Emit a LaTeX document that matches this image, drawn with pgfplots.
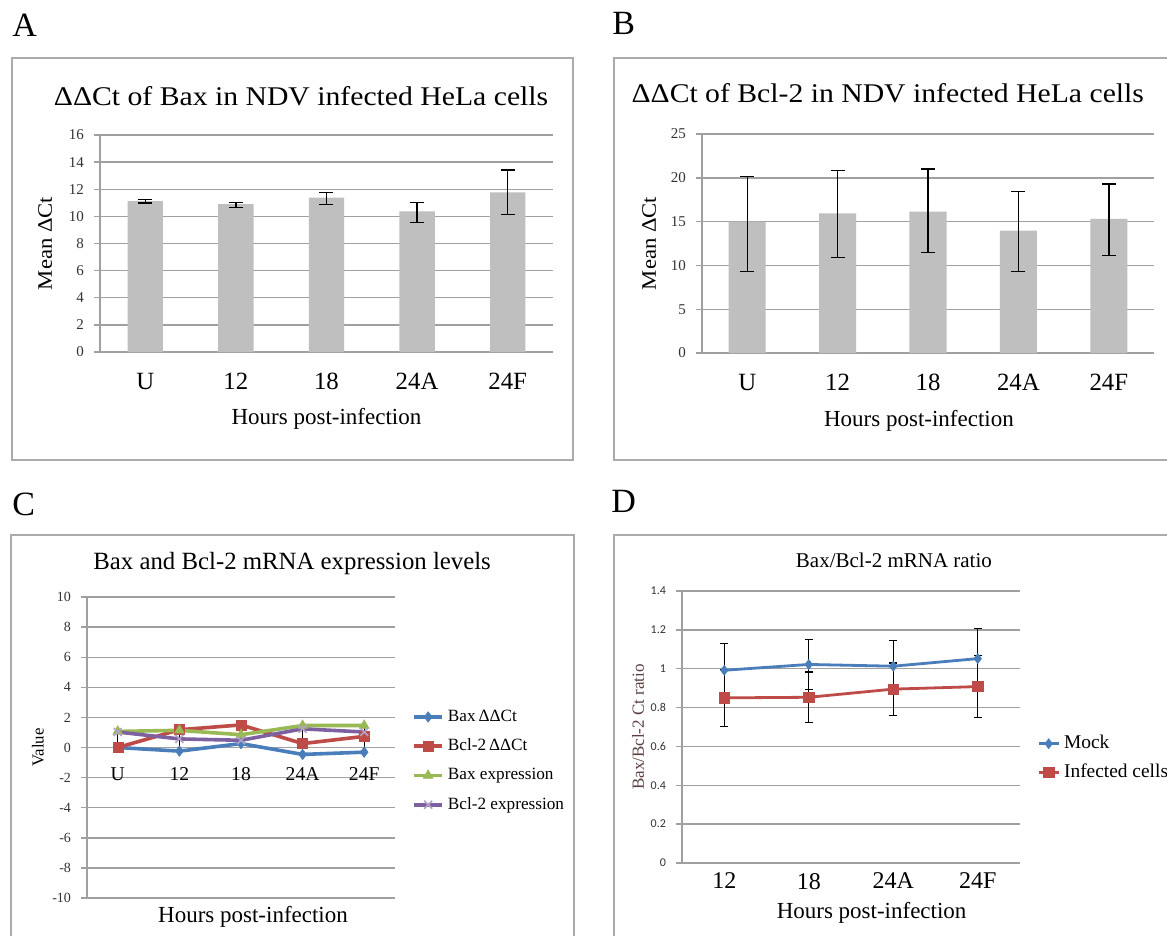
\documentclass[border=0pt]{standalone}
\usepackage{fontspec}
\setmainfont{Liberation Serif}
\newfontfamily\widefont[FakeStretch=1.1]{Liberation Serif}
\newfontfamily\calib{Carlito}
\usepackage{pgfplots}
\pgfplotsset{compat=1.18}

\definecolor{gridc}{HTML}{A0A0A0}
\definecolor{framec}{HTML}{ABABAB}
\definecolor{barc}{HTML}{BFBFBF}
\definecolor{tickc}{HTML}{333333}
\definecolor{xlBlue}{HTML}{4A7EBB}
\definecolor{xlRed}{HTML}{BE4B48}
\definecolor{xlGreen}{HTML}{98B954}
\definecolor{xlPurple}{HTML}{7D60A0}
\definecolor{xlLav}{HTML}{B3A2C7}
\definecolor{ratioc}{HTML}{5C3F3F}

% Excel-like look shared by the four panels
\pgfplotsset{
  every axis title shift=0pt,
  xl/.style={
    scale only axis, anchor=south west,
    axis y line*=left, axis x line*=bottom,
    axis line style={-, draw=gridc, line width=0.7pt},
    ymajorgrids, grid style={draw=gridc, line width=0.7pt},
    xtick style={draw=none},
    ytick style={draw=gridc, line width=0.7pt},
    tick align=outside, major tick length=3pt,
    /pgf/number format/assume math mode=true,
    yticklabel style={text=tickc, xshift=-1.5pt},
    hide obscured y ticks=false,
  },
  ebar/.style={error bars/.cd, y dir=both, y explicit,
    error bar style={draw=black, line width=0.7pt},
    error mark options={rotate=90, mark size=3.5pt, draw=black, line width=0.7pt}},
}

\begin{document}
\begin{tikzpicture}
\path[use as bounding box] (0,0) rectangle (583.5pt,-468pt);
\fill[white] (0,0) rectangle (583.5pt,-468pt);
\clip (0,0) rectangle (583.5pt,-468pt);

% panel frames
\draw[framec, line width=0.8pt] (6pt,-29pt) rectangle (286.5pt,-230pt);
\draw[framec, line width=0.8pt] (590pt,-29pt) -- (307pt,-29pt) -- (307pt,-230pt) -- (590pt,-230pt);
\draw[framec, line width=0.8pt] (5.5pt,-480pt) -- (5.5pt,-267.5pt) -- (287pt,-267.5pt) -- (287pt,-480pt);
\draw[framec, line width=0.8pt] (307pt,-480pt) -- (307pt,-267.5pt) -- (590pt,-267.5pt);

% panel letters
\node[anchor=base west, inner sep=0pt, font=\fontsize{17}{17}\selectfont] at (6pt,-18.5pt) {A};
\node[anchor=base west, inner sep=0pt, font=\fontsize{17}{17}\selectfont] at (306pt,-17.5pt) {B};
\node[anchor=base west, inner sep=0pt, font=\fontsize{17}{17}\selectfont] at (6pt,-257.5pt) {C};
\node[anchor=base west, inner sep=0pt, font=\fontsize{17}{17}\selectfont] at (305.5pt,-256pt) {D};

% ---- A ----
\begin{axis}[xl, at={(50pt,-176pt)}, width=226.5pt, height=108.5pt,
  xmin=-0.5, xmax=4.5, ymin=0, ymax=16, ytick={0,2,...,16},
  xtick={0,...,4}, xticklabels={U,12,18,24A,24F},
  xticklabel style={font=\fontsize{12.4}{13}\selectfont, yshift=-4pt},
  yticklabel style={font=\fontsize{7.5}{8}\selectfont},
  title={ΔΔCt of Bax in NDV infected HeLa cells},
  title style={font=\widefont\fontsize{13.5}{14}\selectfont, at={(axis description cs:0.444,1.138)}, anchor=base},
  xlabel={Hours post-infection},
  xlabel style={font=\fontsize{11.5}{12}\selectfont, at={(axis description cs:0.5,-0.31)}, anchor=center},
  ylabel={Mean ΔCt},
  ylabel style={font=\widefont\fontsize{10.3}{11}\selectfont, at={(axis description cs:-0.121,0.5)}, anchor=center},
]
\addplot[ybar, bar width=0.39, fill=barc, draw=none, ebar]
  table[x=x, y=y, y error plus=ep, y error minus=em] {
x y     ep   em
0 11.13 0.10 0.15
1 10.91 0.12 0.24
2 11.38 0.39 0.49
3 10.37 0.64 0.81
4 11.77 1.65 1.62
};
\end{axis}

% ---- B ----
\begin{axis}[xl, at={(351pt,-176.5pt)}, width=226pt, height=109.5pt,
  xmin=-0.5, xmax=4.5, ymin=0, ymax=25, ytick={0,5,...,25},
  xtick={0,...,4}, xticklabels={U,12,18,24A,24F},
  xticklabel style={font=\fontsize{12.4}{13}\selectfont, yshift=-4pt},
  yticklabel style={font=\fontsize{7.5}{8}\selectfont},
  title={ΔΔCt of Bcl-2 in NDV infected HeLa cells},
  title style={font=\widefont\fontsize{13.5}{14}\selectfont, at={(axis description cs:0.411,1.142)}, anchor=base},
  xlabel={Hours post-infection},
  xlabel style={font=\fontsize{11.5}{12}\selectfont, at={(axis description cs:0.48,-0.31)}, anchor=center},
  ylabel={Mean ΔCt},
  ylabel style={font=\widefont\fontsize{10.3}{11}\selectfont, at={(axis description cs:-0.117,0.5)}, anchor=center},
]
\addplot[ybar, bar width=0.41, fill=barc, draw=none, ebar]
  table[x=x, y=y, y error plus=ep, y error minus=em] {
x y     ep   em
0 15.00 5.15 5.70
1 15.95 4.85 5.05
2 16.15 4.85 4.70
3 13.97 4.46 4.70
4 15.30 4.00 4.20
};
\end{axis}

% ---- C ----
\begin{axis}[xl, at={(43.5pt,-449pt)}, width=154pt, height=150.5pt,
  axis x line*=middle,
  xmin=-0.5, xmax=4.5, ymin=-10, ymax=10, ytick={-10,-8,...,10},
  xtick={0,...,4}, xticklabels={U,12,18,24A,24F},
  xticklabel style={font=\fontsize{9.8}{10}\selectfont, yshift=-3.6pt},
  yticklabel style={font=\fontsize{7}{8}\selectfont},
  title={Bax and Bcl-2 mRNA expression levels},
  title style={font=\fontsize{12.4}{13}\selectfont, at={(axis description cs:0.666,1.09)}, anchor=base},
  xlabel={Hours post-infection},
  xlabel style={font=\fontsize{11.5}{12}\selectfont, at={(axis description cs:0.539,-0.063)}, anchor=center},
  ylabel={Value},
  ylabel style={font=\fontsize{8.4}{9}\selectfont, at={(axis description cs:-0.159,0.5)}, anchor=center},
  legend style={draw=none, fill=none, at={(axis description cs:1.055,0.64)}, anchor=north west,
    font=\fontsize{8.6}{9}\selectfont, inner sep=0pt, row sep=3.3pt, cells={anchor=west}},
  legend image code/.code={\draw[mark repeat=2,mark phase=2,#1] plot coordinates {(0pt,0pt)(7pt,0pt)(14pt,0pt)};},
]
\addplot[xlBlue, line width=1.8pt, mark=diamond*, mark size=2.6pt, mark options={solid, line width=0.3pt}]
  coordinates {(0,0)(1,-0.24)(2,0.26)(3,-0.46)(4,-0.31)};
\addlegendentry{Bax\,ΔΔCt}
\addplot[xlRed, line width=1.8pt, mark=square*, mark size=2.5pt, mark options={solid, line width=0.3pt}]
  coordinates {(0,0)(1,1.18)(2,1.5)(3,0.26)(4,0.74)};
\addlegendentry{Bcl-2\,ΔΔCt}
\addplot[xlGreen, line width=1.8pt, mark=triangle*, mark size=2.8pt, mark options={solid, line width=0.3pt}]
  coordinates {(0,1.07)(1,1.14)(2,0.85)(3,1.46)(4,1.46)};
\addlegendentry{Bax expression}
\addplot[xlPurple, line width=1.8pt, mark=x, mark size=2.8pt, mark options={solid, xlLav, line width=0.8pt}]
  coordinates {(0,1.03)(1,0.57)(2,0.48)(3,1.24)(4,1.03)};
\addlegendentry{Bcl-2 expression}
\addplot[draw=none, mark=none, forget plot, error bars/.cd, y dir=both, y explicit,
  error bar style={draw=black, line width=0.6pt}, error mark=none]
  table[x=x, y=y, y error plus=e, y error minus=e] {
x y     e
0 0.53  0.54
1 0.40  0.80
2 0.85  0.55
3 0.45  1.05
4 0.47  1.02
};
\end{axis}

% ---- D ----
\begin{axis}[xl, at={(341pt,-431.5pt)}, width=169pt, height=136pt,
  xmin=-0.5, xmax=3.5, ymin=0, ymax=1.4,
  ytick={0,0.2,0.4,0.6,0.8,1,1.2,1.4}, yticklabels={0,0.2,0.4,0.6,0.8,1,1.2,1.4},
  yticklabel style={font=\calib\fontsize{6}{7}\selectfont},
  xtick={0,...,3}, xticklabels={12,18,24A,24F},
  xticklabel style={font=\fontsize{12}{13}\selectfont, yshift=1.5pt},
  title={Bax/Bcl-2 mRNA ratio},
  title style={font=\fontsize{10.5}{11}\selectfont, at={(axis description cs:0.627,1.088)}, anchor=base},
  xlabel={Hours post-infection},
  xlabel style={font=\fontsize{11.5}{12}\selectfont, at={(axis description cs:0.561,-0.184)}, anchor=center},
  ylabel={Bax/Bcl-2 Ct ratio},
  ylabel style={font=\fontsize{8.5}{9}\selectfont, text=ratioc, at={(axis description cs:-0.13,0.5)}, anchor=center},
  legend style={draw=none, fill=none, at={(axis description cs:1.05,0.485)}, anchor=north west,
    font=\fontsize{9.7}{10}\selectfont, inner sep=0pt, row sep=2pt, cells={anchor=west}},
  legend image code/.code={\draw[mark repeat=2,mark phase=2,#1] plot coordinates {(0pt,0pt)(5pt,0pt)(10pt,0pt)};},
]
\addplot[xlBlue, line width=1.4pt, mark=diamond*, mark size=2.5pt, mark options={solid, line width=0.3pt},
  error bars/.cd, y dir=both, y explicit, error bar style={draw=black, line width=0.6pt},
  error mark options={rotate=90, mark size=2pt, draw=black, line width=0.6pt}]
  table[x=x, y=y, y error plus=e, y error minus=e] {
x y     e
0 0.992 0.137
1 1.022 0.130
2 1.013 0.134
3 1.052 0.155
};
\addlegendentry{Mock}
\addplot[xlRed, line width=1.4pt, mark=square*, mark size=2.6pt, mark options={solid, line width=0.3pt},
  error bars/.cd, y dir=both, y explicit, error bar style={draw=black, line width=0.6pt},
  error mark options={rotate=90, mark size=2pt, draw=black, line width=0.6pt}]
  table[x=x, y=y, y error plus=e, y error minus=e] {
x y     e
0 0.850 0.146
1 0.853 0.130
2 0.895 0.134
3 0.908 0.160
};
\addlegendentry{Infected cells}
\end{axis}
\end{tikzpicture}
\end{document}
